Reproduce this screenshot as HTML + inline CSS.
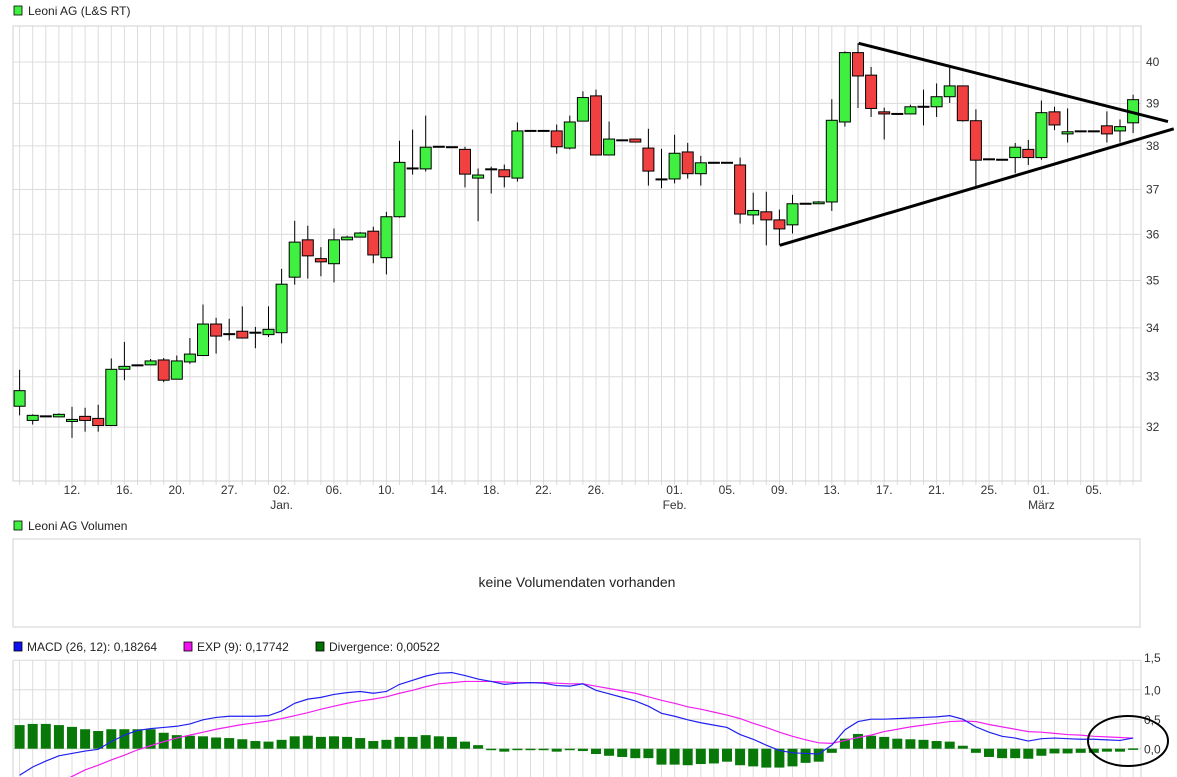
<!DOCTYPE html>
<html><head><meta charset="utf-8"><style>
html,body{margin:0;padding:0;background:#fff;}
svg{display:block;font-family:"Liberation Sans",Arial,sans-serif;}
</style></head><body>
<svg id="chart" width="1177" height="777" viewBox="0 0 1177 777"></svg>
<script>
const opens=[32.41,32.13,32.21,32.20,32.11,32.21,32.17,32.03,33.15,33.23,33.24,33.34,32.95,33.30,33.43,34.08,33.87,33.93,33.90,33.86,33.90,35.07,35.88,35.47,35.36,35.88,35.94,36.07,35.49,36.39,37.48,37.47,37.98,37.97,37.92,37.26,37.46,37.45,37.26,38.35,38.35,38.35,37.95,38.58,39.18,37.79,38.13,38.16,37.95,37.23,37.24,37.86,37.36,37.61,37.61,37.56,36.43,36.50,36.32,36.21,36.68,36.68,36.72,38.56,40.23,39.68,38.80,38.75,38.75,38.92,38.92,39.16,39.42,38.59,37.69,37.68,37.73,37.92,37.73,38.80,38.28,38.34,38.34,38.47,38.35,38.54];
const highs=[33.14,32.25,32.21,32.27,32.40,32.38,32.44,33.37,33.71,33.25,33.36,33.38,33.43,33.79,34.49,34.21,34.19,34.45,34.02,34.45,35.25,36.30,36.19,35.72,36.13,35.97,36.05,36.17,36.50,38.12,38.38,38.71,37.99,37.98,37.98,37.48,37.52,37.57,38.55,38.36,38.36,38.50,38.71,39.29,39.33,38.57,38.14,38.17,38.40,37.93,38.26,38.07,37.77,37.62,37.62,37.73,36.93,36.95,36.55,36.88,36.69,36.74,39.10,40.26,40.46,39.88,38.90,38.76,38.97,39.33,39.48,39.90,39.43,38.86,37.70,37.69,38.07,38.14,39.07,38.92,38.88,38.35,38.35,38.81,38.62,39.21];
const lows=[32.23,32.05,32.21,32.20,31.79,31.91,31.91,32.03,32.93,33.23,33.24,32.89,32.95,33.26,33.43,33.47,33.74,33.79,33.58,33.81,33.68,34.91,35.04,35.09,34.96,35.88,35.94,35.37,35.13,36.37,37.34,37.41,37.98,37.96,37.05,36.29,36.91,37.05,37.18,38.35,38.35,37.82,37.92,38.58,37.79,37.79,38.13,38.09,37.09,37.03,37.14,37.25,37.09,37.61,37.61,36.24,36.22,35.76,35.76,36.02,36.68,36.68,36.52,38.45,38.89,38.68,38.15,38.75,38.75,38.48,38.68,39.01,38.57,37.07,37.69,37.68,37.37,37.56,37.68,38.37,38.08,38.34,38.34,38.08,38.08,38.30];
const closes=[32.72,32.23,32.21,32.25,32.15,32.13,32.03,33.15,33.21,33.23,33.32,32.93,33.32,33.46,34.08,33.83,33.87,33.79,33.87,33.97,34.92,35.83,35.53,35.40,35.88,35.94,36.03,35.55,36.39,37.62,37.48,37.97,37.98,37.96,37.35,37.33,37.46,37.29,38.35,38.35,38.35,37.98,38.56,39.14,37.79,38.16,38.13,38.09,37.42,37.23,37.83,37.36,37.61,37.61,37.61,36.45,36.53,36.32,36.12,36.68,36.68,36.72,38.60,40.23,39.66,38.88,38.75,38.75,38.92,38.92,39.16,39.42,38.59,37.67,37.69,37.68,37.97,37.73,38.78,38.49,38.33,38.34,38.34,38.28,38.45,39.09];
const priceTicks=[32,33,34,35,36,37,38,39,40];
const dateLabels=["12.","16.","20.","27.","02.","06.","10.","14.","18.","22.","26.","01.","05.","09.","13.","17.","21.","25.","01.","05."];
const dateIdx=[4,8,12,16,20,24,28,32,36,40,44,50,54,58,62,66,70,74,78,82];
const monthLabels=["Jan.","Feb.","März"];
const monthIdx=[20,50,78];
const trendUpper=[[64.05,40.46],[87.66,38.57]];
const trendLower=[[58.03,35.76],[88.1,38.40]];
const macd=[-0.45,-0.31,-0.21,-0.12,-0.08,-0.04,-0.01,0.12,0.23,0.31,0.34,0.36,0.38,0.42,0.49,0.53,0.55,0.55,0.55,0.56,0.64,0.77,0.84,0.87,0.92,0.95,0.97,0.94,0.97,1.09,1.16,1.23,1.28,1.29,1.24,1.18,1.14,1.09,1.11,1.12,1.11,1.07,1.06,1.10,0.99,0.93,0.87,0.81,0.72,0.60,0.55,0.49,0.44,0.40,0.36,0.24,0.16,0.06,-0.03,-0.07,-0.08,-0.09,0.06,0.32,0.46,0.50,0.50,0.51,0.52,0.53,0.54,0.56,0.50,0.37,0.28,0.21,0.18,0.13,0.17,0.18,0.17,0.16,0.16,0.15,0.14,0.18];
const expLine=[-0.9,-0.8,-0.7,-0.58,-0.47,-0.36,-0.28,-0.19,-0.11,-0.02,0.05,0.12,0.18,0.23,0.28,0.33,0.37,0.41,0.44,0.47,0.51,0.56,0.61,0.67,0.72,0.77,0.81,0.84,0.88,0.94,0.99,1.05,1.10,1.12,1.14,1.14,1.14,1.13,1.12,1.12,1.12,1.11,1.10,1.10,1.06,1.02,0.98,0.94,0.88,0.82,0.77,0.71,0.67,0.62,0.57,0.51,0.43,0.36,0.28,0.21,0.15,0.10,0.09,0.14,0.19,0.23,0.29,0.33,0.37,0.40,0.43,0.46,0.47,0.46,0.41,0.37,0.33,0.29,0.28,0.26,0.24,0.23,0.21,0.20,0.19,0.18];
const divergence=[0.40,0.42,0.42,0.40,0.37,0.33,0.30,0.33,0.33,0.33,0.33,0.27,0.23,0.22,0.21,0.19,0.18,0.16,0.13,0.12,0.15,0.21,0.22,0.20,0.21,0.20,0.18,0.13,0.15,0.20,0.20,0.23,0.21,0.20,0.12,0.06,-0.01,-0.05,-0.02,-0.02,-0.02,-0.05,-0.02,-0.04,-0.09,-0.12,-0.14,-0.16,-0.16,-0.27,-0.27,-0.28,-0.26,-0.25,-0.22,-0.28,-0.30,-0.32,-0.32,-0.30,-0.24,-0.22,-0.07,0.17,0.25,0.22,0.20,0.17,0.16,0.15,0.13,0.12,0.05,-0.07,-0.14,-0.16,-0.16,-0.17,-0.12,-0.08,-0.08,-0.07,-0.07,-0.05,-0.05,0.005];
const macdTicks=[1.5,1.0,0.5,0.0];
const macdTickLabels=["1,5","1,0","0,5","0,0"];

const NS="http://www.w3.org/2000/svg";
const svg=document.getElementById('chart');
function mk(tag,attrs,parent){const e=document.createElementNS(NS,tag);for(const k in attrs)e.setAttribute(k,attrs[k]);(parent||svg).appendChild(e);return e;}
const L=13,R=1141,T=26,B=481;
const x=i=>19.6+13.1*i;
const y=p=>62+Math.log(40/p)*1636;
const my=v=>748.7-v*59;
const N=closes.length;

// main panel grid
const g1=mk('g',{});


for(let i=0;i<N;i++){mk('line',{x1:x(i),x2:x(i),y1:T,y2:B+4,stroke:'#dcdcdc','stroke-width':1},g1);}
priceTicks.forEach(p=>{mk('line',{x1:L,x2:R,y1:y(p),y2:y(p),stroke:'#dcdcdc','stroke-width':1},g1);
 const t=mk('text',{x:R+5,y:y(p)+4,'font-size':12,fill:'#333'});t.textContent=p;
 
 });
mk('rect',{x:L,y:T,width:R-L,height:B-T,fill:'none',stroke:'#d0d0d0'},g1);
dateLabels.forEach((d,k)=>{const t=mk('text',{x:x(dateIdx[k]),y:494,'font-size':12,fill:'#333','text-anchor':'middle'});t.textContent=d;
 
 });
monthLabels.forEach((d,k)=>{const t=mk('text',{x:x(monthIdx[k]),y:509,'font-size':12,fill:'#333','text-anchor':'middle'});t.textContent=d;
 
 });

// candles
const gc=mk('g',{});


for(let i=0;i<N;i++){
 const o=opens[i],c=closes[i],h=highs[i],l=lows[i];
 const cx=x(i);
 const w=mk('line',{x1:cx,x2:cx,y1:y(h),y2:y(l),stroke:'#000','stroke-width':1},gc);
 
 
 const top=y(Math.max(o,c)),bot=y(Math.min(o,c));
 let r;
 if(bot-top<1.5){r=mk('rect',{x:cx-6,y:top-1,width:12,height:2,fill:'#000'},gc);}
 else r=mk('rect',{x:cx-5.5,y:top,width:11,height:bot-top,fill:c>=o?'#40f040':'#f04040',stroke:'#000','stroke-width':1},gc);
 
 
}
[trendUpper,trendLower].forEach(tl=>{const ln=mk('line',{x1:x(tl[0][0]),y1:y(tl[0][1]),x2:x(tl[1][0]),y2:y(tl[1][1]),stroke:'#000','stroke-width':3});
 
 });

// legend main
let lg=mk('rect',{x:14,y:6,width:8,height:9,fill:'#40f040',stroke:'#000','stroke-width':0.8});


let lt=mk('text',{x:28,y:15,'font-size':12,fill:'#222'});lt.textContent='Leoni AG (L&S RT)';



// volume panel
lg=mk('rect',{x:14,y:521,width:8,height:9,fill:'#40f040',stroke:'#000','stroke-width':0.8});


lt=mk('text',{x:28,y:530,'font-size':12,fill:'#222'});lt.textContent='Leoni AG Volumen';


const vb=mk('rect',{x:L,y:539,width:R-L-1,height:88,fill:'none',stroke:'#d0d0d0'});


lt=mk('text',{x:577,y:587,'font-size':14,fill:'#222','text-anchor':'middle'});lt.textContent='keine Volumendaten vorhanden';



// MACD legend
const legs=[[14,'#1010f0','MACD (26, 12): 0,18264'],[184,'#f010f0','EXP (9): 0,17742'],[316,'#007000','Divergence: 0,00522']];
legs.forEach(l=>{const s=mk('rect',{x:l[0],y:642,width:8,height:9,fill:l[1],stroke:'#000','stroke-width':0.8});
 
 
 const t=mk('text',{x:l[0]+13,y:651,'font-size':12,fill:'#222'});t.textContent=l[2];
 
 });

// MACD panel
const g3=mk('g',{});


const MT=my(1.5);
for(let i=0;i<N;i++){mk('line',{x1:x(i),x2:x(i),y1:MT,y2:777,stroke:'#dcdcdc','stroke-width':1},g3);}
macdTicks.forEach((v,k)=>{mk('line',{x1:L,x2:R,y1:my(v),y2:my(v),stroke:'#dcdcdc'},g3);
 const t=mk('text',{x:R+3,y:my(v)+(k===0?2:5),'font-size':12,fill:'#333'});t.textContent=macdTickLabels[k];
 
 });
mk('line',{x1:L,x2:L,y1:MT,y2:777,stroke:'#d0d0d0'},g3);
mk('line',{x1:R,x2:R,y1:MT,y2:777,stroke:'#d0d0d0'},g3);
const cp=mk('clipPath',{id:'mclip'});mk('rect',{x:L,y:MT,width:R-L,height:777-MT},cp);
const gm=mk('g',{'clip-path':'url(#mclip)'});


for(let i=0;i<N;i++){const v=divergence[i];const y0=my(0),y1=my(v);
 const b=mk('rect',{x:x(i)-5,y:Math.min(y0,y1),width:10,height:Math.max(Math.abs(y1-y0),1.5),fill:'#087808'},gm);
 
 }
const pe=mk('polyline',{points:expLine.map((v,i)=>x(i)+','+my(v)).join(' '),fill:'none',stroke:'#f020f0','stroke-width':1.2},gm);


const pm=mk('polyline',{points:macd.map((v,i)=>x(i)+','+my(v)).join(' '),fill:'none',stroke:'#2020f0','stroke-width':1.2},gm);


const el=mk('ellipse',{cx:1128,cy:741,rx:40,ry:25,fill:'none',stroke:'#000','stroke-width':2});


</script>
</body></html>
